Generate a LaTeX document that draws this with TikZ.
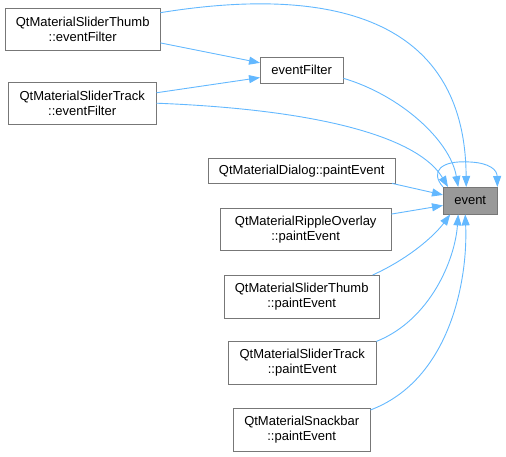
\documentclass[tikz,border=0pt]{standalone}
\usepackage{fontspec}
\setmainfont{Liberation Sans}
\usetikzlibrary{arrows.meta}
\definecolor{edgeblue}{HTML}{63B8FF}
\definecolor{boxline}{HTML}{777777}
\definecolor{rootfill}{HTML}{999999}

\begin{document}
\begin{tikzpicture}[x=1pt, y=-1pt,
        fn/.style={draw=boxline, fill=#1, align=center, inner sep=0pt,
                   font=\fontsize{13}{15}\selectfont, anchor=north west},
        fn/.default=white,
        edge/.style={draw=edgeblue, line width=0.9pt,
                     -{Triangle[length=11pt, width=8pt]}},
    ]
    \useasboundingbox (0,0) rectangle (506,457);

    % callers on the left
    \node[fn, minimum width=155, minimum height=42] (thumbEF) at (5,8)
        {QtMaterialSliderThumb\\::eventFilter};
    \node[fn, minimum width=148, minimum height=42] (trackEF) at (8,82)
        {QtMaterialSliderTrack\\::eventFilter};
    \node[fn, minimum width=83, minimum height=26] (evFilter) at (260,57)
        {eventFilter};

    % paint events
    \node[fn, minimum width=187, minimum height=25] (dialog) at (208,158)
        {QtMaterialDialog::paintEvent};
    \node[fn, minimum width=171, minimum height=42] (ripple) at (220,208)
        {QtMaterialRippleOverlay\\::paintEvent};
    \node[fn, minimum width=155, minimum height=43] (thumbPE) at (224,275)
        {QtMaterialSliderThumb\\::paintEvent};
    \node[fn, minimum width=148, minimum height=43] (trackPE) at (228,341)
        {QtMaterialSliderTrack\\::paintEvent};
    \node[fn, minimum width=137, minimum height=43] (snack) at (233,408)
        {QtMaterialSnackbar\\::paintEvent};

    \node[fn=rootfill, minimum width=54, minimum height=27] (event) at (443,187)
        {event};

    \draw[edge] (thumbEF.-10) -- (evFilter.170);
    \draw[edge] (trackEF.8) -- (evFilter.190);
    \draw[edge] (thumbEF.12) .. controls (300,-10) and (465,0)
        .. ([xshift=-4pt]event.north);
    \draw[edge] (trackEF.east) .. controls (330,110) and (420,140)
        .. ([xshift=5pt]event.north west);
    \draw[edge] (evFilter.-11) .. controls (400,95) and (450,140)
        .. ([xshift=-12pt]event.north);
    \draw[edge] (event.north west) .. controls (430,172) and (440,160) .. (470,162)
        .. controls (490,163) and (497,170) .. (event.north east);
    \draw[edge] (dialog.-8.5) -- (event.168);
    \draw[edge] (ripple.10) -- (event.190);
    \draw[edge] (thumbPE.17) .. controls (410,258) and (435,235)
        .. ([xshift=-20pt]event.south);
    \draw[edge] (trackPE.16) .. controls (430,320) and (455,260)
        .. ([xshift=-12pt]event.south);
    \draw[edge] (snack.16) .. controls (450,380) and (468,280)
        .. ([xshift=-5pt]event.south);
\end{tikzpicture}
\end{document}
